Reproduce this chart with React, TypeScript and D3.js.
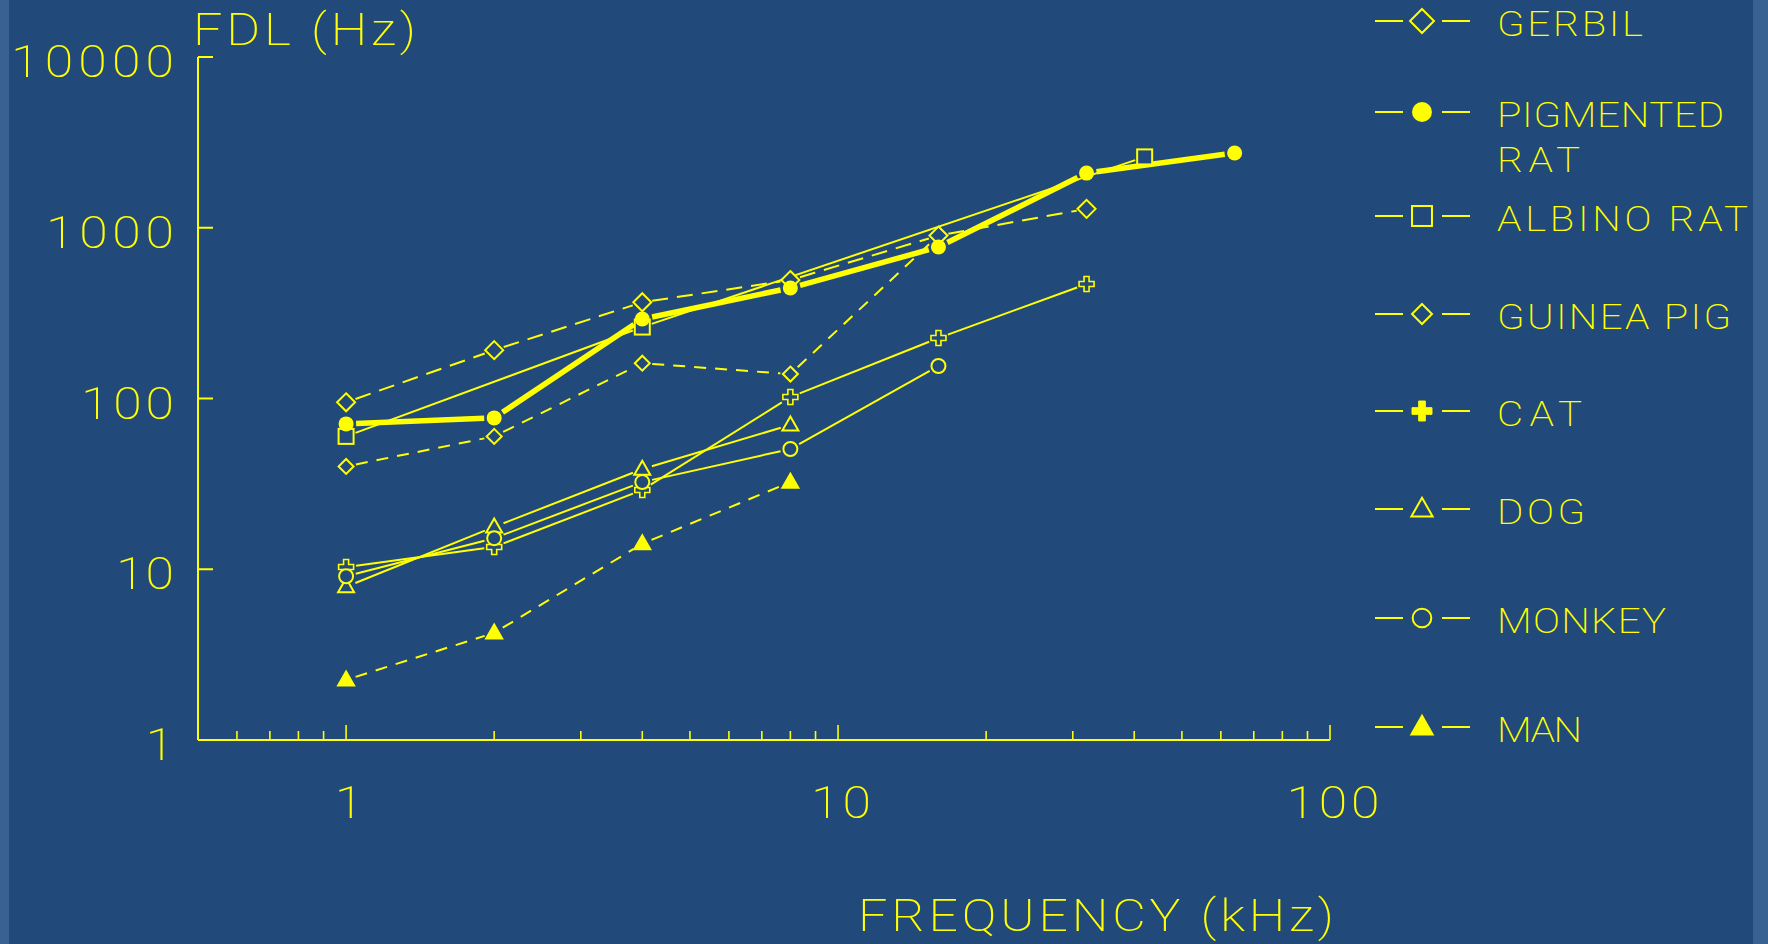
import React from 'react';
import * as d3 from 'd3';

// ---------- data ----------
const gerbilFreq = [1, 2, 4, 8, 16, 32];
const gerbilFDL = [95, 192, 366, 494, 900, 1290];

const pigmentedFreq = [1, 2, 4, 8, 16, 32, 64];
const pigmentedFDL = [71, 77, 292, 444, 771, 2090, 2740];

const albinoFreq = [1, 4, 42];
const albinoFDL = [60, 262, 2600];

const guineaFreq = [1, 2, 4, 8, 16];
const guineaFDL = [40, 60, 161, 139, 900];

const catFreq = [1, 2, 4, 8, 16, 32];
const catFDL = [10.3, 13.5, 29.1, 102, 226, 468];

const dogFreq = [1, 2, 4, 8];
const dogFDL = [7.9, 17.7, 38.6, 70];

const monkeyFreq = [1, 2, 4, 8, 16];
const monkeyFDL = [9.1, 15.2, 32.4, 50.6, 155];

const manFreq = [1, 2, 4, 8];
const manFDL = [2.25, 4.24, 14.1, 32.4];

const legendLabels = [['GERBIL'], ['PIGMENTED', 'RAT'], ['ALBINO RAT'], ['GUINEA PIG'], ['CAT'], ['DOG'], ['MONKEY'], ['MAN']];
const xTickLabels = ['1', '10', '100'];
const yTickLabels = ['1', '10', '100', '1000', '10000'];
const xTitle = 'FREQUENCY (kHz)';
const yTitle = 'FDL (Hz)';

// ---------- styling ----------
const W = 1768, H = 944;
const BG = '#21497a', STRIP = '#386292', FG = '#ffff00';
const FONT = "Roboto, 'DejaVu Sans', sans-serif";
const FW = 200;
const SX = 1.15;

type Marker = 'diamondL' | 'diamondS' | 'dot' | 'square' | 'plus' | 'triOpen' | 'circle' | 'triFilled';
interface Series { freq: number[]; fdl: number[]; marker: Marker; dash?: string; width: number; }

const series: Series[] = [
  { freq: guineaFreq, fdl: guineaFDL, marker: 'diamondS', dash: '12 9', width: 2 },
  { freq: gerbilFreq, fdl: gerbilFDL, marker: 'diamondL', dash: '16 9', width: 2 },
  { freq: albinoFreq, fdl: albinoFDL, marker: 'square', width: 2 },
  { freq: catFreq, fdl: catFDL, marker: 'plus', width: 2 },
  { freq: dogFreq, fdl: dogFDL, marker: 'triOpen', width: 2 },
  { freq: monkeyFreq, fdl: monkeyFDL, marker: 'circle', width: 2 },
  { freq: manFreq, fdl: manFDL, marker: 'triFilled', dash: '12 9', width: 2 },
  { freq: pigmentedFreq, fdl: pigmentedFDL, marker: 'dot', width: 5.5 },
];
const legendMarkers: Marker[] = ['diamondL', 'dot', 'square', 'diamondS', 'plus', 'triOpen', 'circle', 'triFilled'];
const legendRowY = [21, 112, 216, 314, 411, 509, 618, 727];
const legendTextLen = [[146], [227, 83], [251], [234], [85], [88], [169], [85]];

const x = d3.scaleLog().domain([0.5, 100]).range([198, 1330]);
const y = d3.scaleLog().domain([1, 10000]).range([740, 57]);

function Txt(props: { x: number; y: number; size: number; anchor?: 'start' | 'middle' | 'end'; len?: number; children: string }) {
  const { x: tx, y: ty, size, anchor = 'start', len, children } = props;
  return (
    <text transform={`translate(${tx},${ty}) scale(${SX},1)`} x={0} y={0} fontSize={size} fill={FG}
      textAnchor={anchor} textLength={len ? len / SX : undefined} lengthAdjust={len ? 'spacing' : undefined}>
      {children}
    </text>
  );
}

function markerEl(m: Marker, cx: number, cy: number, s: number, legend: boolean, key: string) {
  const sw = 2;
  switch (m) {
    case 'diamondL':
    case 'diamondS': {
      const r = (m === 'diamondL' ? 9 : 7.5) * s;
      return <path key={key} d={`M${cx},${cy - r}L${cx + r},${cy}L${cx},${cy + r}L${cx - r},${cy}Z`} fill={BG} stroke={FG} strokeWidth={sw} />;
    }
    case 'dot':
      return <circle key={key} cx={cx} cy={cy} r={7.5 * s} fill={FG} />;
    case 'square': {
      const h = 7.5 * s;
      return <rect key={key} x={cx - h} y={cy - h} width={2 * h} height={2 * h} fill={BG} stroke={FG} strokeWidth={sw} />;
    }
    case 'plus': {
      const a = 7.5 * s, t = 2.5 * s;
      const d = `M${cx - t},${cy - a}H${cx + t}V${cy - t}H${cx + a}V${cy + t}H${cx + t}V${cy + a}H${cx - t}V${cy + t}H${cx - a}V${cy - t}H${cx - t}Z`;
      return <path key={key} d={d} fill={legend ? FG : BG} stroke={FG} strokeWidth={legend ? 1 : 1.6} />;
    }
    case 'triOpen':
    case 'triFilled': {
      const w = 8 * s, hgt = 14 * s;
      const d = `M${cx},${cy - hgt * 0.6}L${cx + w},${cy + hgt * 0.4}L${cx - w},${cy + hgt * 0.4}Z`;
      return <path key={key} d={d} fill={m === 'triFilled' ? FG : BG} stroke={FG} strokeWidth={sw} strokeLinejoin="miter" />;
    }
    case 'circle':
      return <circle key={key} cx={cx} cy={cy} r={7 * s} fill={BG} stroke={FG} strokeWidth={sw} />;
  }
}

export default function App() {
  const gap = 10;
  const lines: JSX.Element[] = [];
  const marks: JSX.Element[] = [];
  series.forEach((s, si) => {
    const pts = s.freq.map((f, i) => [x(f), y(s.fdl[i])] as [number, number]);
    for (let i = 0; i < pts.length - 1; i++) {
      const [x0, y0] = pts[i], [x1, y1] = pts[i + 1];
      const dx = x1 - x0, dy = y1 - y0, L = Math.hypot(dx, dy);
      if (L <= 2 * gap) continue;
      const ux = dx / L, uy = dy / L;
      lines.push(
        <line key={`l${si}-${i}`} x1={x0 + ux * gap} y1={y0 + uy * gap} x2={x1 - ux * gap} y2={y1 - uy * gap}
          stroke={FG} strokeWidth={s.width} strokeDasharray={s.dash} />
      );
    }
    pts.forEach(([px, py], i) => marks.push(markerEl(s.marker, px, py, 1, false, `m${si}-${i}`)!));
  });

  const xMinor = x.ticks().filter(t => t > 0.5);
  const isMajor = (t: number) => Math.abs(Math.log10(t) - Math.round(Math.log10(t))) < 1e-9;
  const yMajor = yTickLabels.map(Number);
  const xMajorVals = xTickLabels.map(Number);
  const yLabelLen: Record<string, number | undefined> = { '10000': 163, '1000': 128, '100': 93, '10': 58 };
  const xLabelLen: Record<string, number | undefined> = { '10': 60, '100': 93 };

  return (
    <svg width={W} height={H} style={{ position: 'absolute', left: 0, top: 0 }} fontFamily={FONT} fontWeight={FW}>
      <rect x={0} y={0} width={W} height={H} fill={STRIP} />
      <rect x={9} y={0} width={1744} height={H} fill={BG} />

      {/* axes */}
      <line x1={x(0.5)} y1={y(1)} x2={x(100)} y2={y(1)} stroke={FG} strokeWidth={2} />
      <line x1={x(0.5)} y1={y(1)} x2={x(0.5)} y2={y(10000)} stroke={FG} strokeWidth={2} />
      {xMinor.map(t => (
        <line key={`xt${t}`} x1={x(t)} x2={x(t)} y1={y(1)} y2={y(1) - (isMajor(t) ? 15 : 9)} stroke={FG} strokeWidth={1.6} />
      ))}
      {yMajor.filter(v => v > 1).map(v => (
        <line key={`yt${v}`} x1={x(0.5)} x2={x(0.5) + 15} y1={y(v)} y2={y(v)} stroke={FG} strokeWidth={2} />
      ))}
      {yTickLabels.map(lbl => (
        <Txt key={`yl${lbl}`} x={174} y={y(Number(lbl)) + 20} size={45} anchor="end" len={yLabelLen[lbl]}>{lbl}</Txt>
      ))}
      {xTickLabels.map((lbl, i) => (
        <Txt key={`xl${lbl}`} x={x(xMajorVals[i]) + 3} y={818} size={45} anchor="middle" len={xLabelLen[lbl]}>{lbl}</Txt>
      ))}
      <Txt x={193} y={45} size={45} len={223}>{yTitle}</Txt>
      <Txt x={858} y={931} size={45} len={476}>{xTitle}</Txt>

      {/* data */}
      {lines}
      {marks}

      {/* legend */}
      {legendLabels.map((lbls, i) => {
        const ly = legendRowY[i];
        return (
          <g key={`lg${i}`}>
            <line x1={1375} x2={1403} y1={ly} y2={ly} stroke={FG} strokeWidth={2} />
            <line x1={1442} x2={1470} y1={ly} y2={ly} stroke={FG} strokeWidth={2} />
            {markerEl(legendMarkers[i], 1422, ly, 1.33, true, `lm${i}`)}
            {lbls.map((t, j) => (
              <Txt key={j} x={1497} y={ly + 15 + j * 45} size={35} len={legendTextLen[i][j]}>{t}</Txt>
            ))}
          </g>
        );
      })}
    </svg>
  );
}
